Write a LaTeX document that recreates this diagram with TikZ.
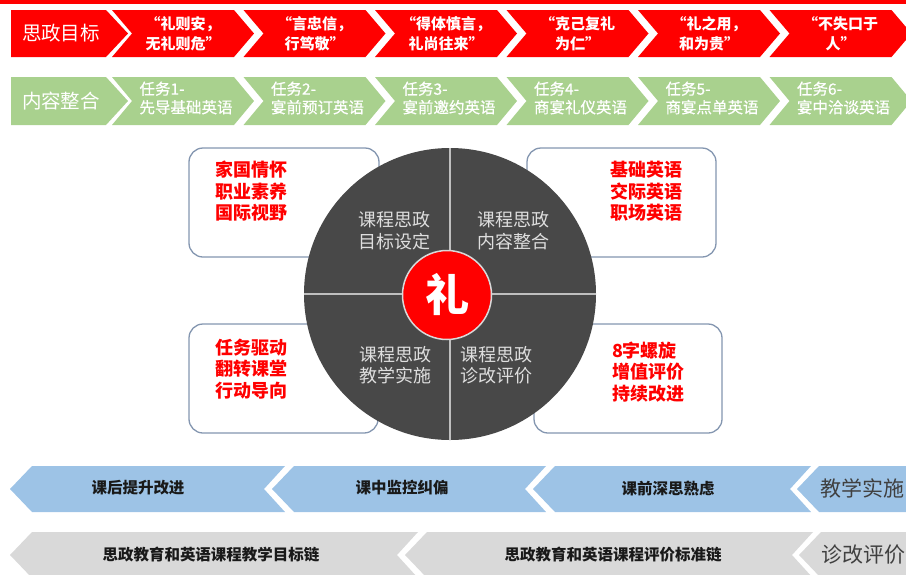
\documentclass[tikz,border=0pt]{standalone}
\usepackage{fontspec}
\setmainfont{Noto Sans CJK SC}
\newfontfamily\semicjk{Noto Sans CJK SC}[FakeBold=0.6]
\definecolor{zred}{RGB}{255,0,0}
\definecolor{zgreen}{RGB}{169,209,142}
\definecolor{zblue}{RGB}{157,195,230}
\definecolor{zgray}{RGB}{217,217,217}
\definecolor{zdisk}{RGB}{72,72,72}
\definecolor{zline}{RGB}{191,191,191}
\definecolor{zframe}{RGB}{132,150,176}
\definecolor{zqtext}{RGB}{222,222,222}
\definecolor{zdark}{RGB}{25,25,25}
\definecolor{zside}{RGB}{64,64,64}
\begin{document}
\begin{tikzpicture}[x=1pt,y=-1pt,
  every node/.style={inner sep=0pt, outer sep=0pt},
  headtxt/.style={text=white, font=\fontsize{19.5}{23}\selectfont},
  rowonetxt/.style={text=white, font=\fontsize{15}{20}\selectfont\bfseries, align=center},
  rowtwotxt/.style={text=white, font=\semicjk\fontsize{15.5}{18.5}\selectfont, align=left},
  quadtxt/.style={text=zqtext, font=\fontsize{18}{21.5}\selectfont, align=center},
  boxtxt/.style={text=zred, font=\fontsize{18}{21.5}\selectfont\bfseries, align=left, anchor=west},
  bottomtxt/.style={text=zdark, font=\fontsize{15.5}{18}\selectfont\bfseries},
  sidetxt/.style={text=zside, font=\fontsize{21}{24}\selectfont, anchor=west},
  framebox/.style={draw=zframe, line width=1.3pt, fill=white, rounded corners=14pt}]
\useasboundingbox (0,0) rectangle (906,574);
\clip (0,0) rectangle (906,574);

% top strip
\fill[zred] (0,0) rectangle (906,3.5);

% row 1 and row 2 chevrons
\fill[zred] (11,10) -- (106,10) -- (128,33.5) -- (106,57) -- (11,57) -- cycle;
\fill[zgreen] (11,77) -- (106,77) -- (128,101) -- (106,125) -- (11,125) -- cycle;
\foreach \k in {2,...,7}{
  \pgfmathsetmacro\L{112+131.5*(\k-2)}
  \fill[zred] (\L,10) -- ({\L+122},10) -- ({\L+142},33.5) -- ({\L+122},57) -- (\L,57) -- ({\L+20},33.5) -- cycle;
  \fill[zgreen] (\L,77) -- ({\L+122},77) -- ({\L+142},101) -- ({\L+122},125) -- (\L,125) -- ({\L+20},101) -- cycle;
}
\node[headtxt] (h1) at (61,33.5) {思政目标};
\node[headtxt] (h2) at (61,101) {内容整合};

\node[rowonetxt] (a2) at (183,33.5) {“礼则安，\\无礼则危”};
\node[rowonetxt] (a3) at (314.5,33.5) {“言忠信，\\行笃敬”};
\node[rowonetxt] (a4) at (446,33.5) {“得体慎言，\\礼尚往来”};
\node[rowonetxt] (a5) at (577.5,33.5) {“克己复礼\\为仁”};
\node[rowonetxt] (a6) at (709,33.5) {“礼之用，\\和为贵”};
\node[rowonetxt] (a7) at (840.5,33.5) {“不失口于\\人”};

\node[rowtwotxt] (b2) at (186,98) {任务1-\\先导基础英语};
\node[rowtwotxt] (b3) at (317.5,98) {任务2-\\宴前预订英语};
\node[rowtwotxt] (b4) at (449,98) {任务3-\\宴前邀约英语};
\node[rowtwotxt] (b5) at (580.5,98) {任务4-\\商宴礼仪英语};
\node[rowtwotxt] (b6) at (712,98) {任务5-\\商宴点单英语};
\node[rowtwotxt] (b7) at (843.5,98) {任务6-\\宴中洽谈英语};

% frames behind the disk
\draw[framebox] (189,148) rectangle (379,257);
\draw[framebox] (527,148) rectangle (716,257);
\draw[framebox] (189,324) rectangle (378,433);
\draw[framebox] (534,324) rectangle (722,433);

\node[boxtxt] (t1) at (215,191.5) {家国情怀\\职业素养\\国际视野};
\node[boxtxt] (t2) at (610,191.5) {基础英语\\交际英语\\职场英语};
\node[boxtxt] (t3) at (215,369) {任务驱动\\翻转课堂\\行动导向};
\node[boxtxt] (t4) at (612,372) {8字螺旋\\增值评价\\持续改进};

% disk
\fill[zdisk] (450,294) circle[radius=146pt];
\draw[zline, line width=2.2pt] (450,148) -- (450,440);
\draw[zline, line width=2.2pt] (304,294) -- (596,294);

\node[quadtxt] (q1) at (394.5,230.5) {课程思政\\目标设定};
\node[quadtxt] (q2) at (513.5,230.5) {课程思政\\内容整合};
\node[quadtxt] (q3) at (395,365) {课程思政\\教学实施};
\node[quadtxt] (q4) at (496,365) {课程思政\\诊改评价};

\node[circle, fill=zred, draw=zgray, line width=1.5pt, minimum size=89pt,
      text=white, font=\fontsize{44}{44}\selectfont\bfseries] (li) at (447,295) {礼};

% bottom rows (left pointing)
\foreach \t/\a/\b in {10/32/285, 272/294/546, 533/555/811, 797/819/930}{
  \fill[zblue] (\t,489) -- (\a,466) -- (\b,466) -- ({\b-21},489) -- (\b,512) -- (\a,512) -- cycle;
}
\foreach \t/\a/\b in {10/32/418, 405/427/813, 799/821/930}{
  \fill[zgray] (\t,555) -- (\a,532) -- (\b,532) -- ({\b-21},555) -- (\b,578) -- (\a,578) -- cycle;
}
\node[bottomtxt] (c1) at (138,488) {课后提升改进};
\node[bottomtxt] (c2) at (402,488) {课中监控纠偏};
\node[bottomtxt] (c3) at (668,488) {课前深思熟虑};
\node[sidetxt] (c4) at (820,488) {教学实施};
\node[bottomtxt] (d1) at (211,555) {思政教育和英语课程教学目标链};
\node[bottomtxt] (d2) at (613,555) {思政教育和英语课程评价标准链};
\node[sidetxt] (d3) at (821,555) {诊改评价};
\end{tikzpicture}
\end{document}
